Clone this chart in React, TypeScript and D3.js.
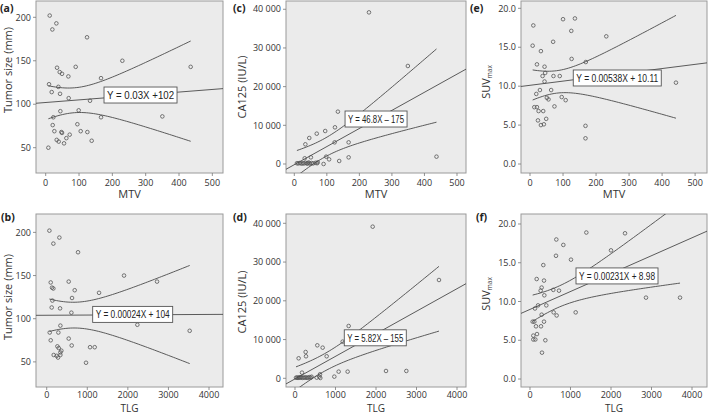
import React from 'react';
import * as d3 from 'd3';

const W = 709, H = 414;

// (a) MTV vs tumor size
const mtvA = [12,32,20,124,230,435,90,34,68,42,49,166,10,38,18,43,69,133,99,44,23,166,350,95,21,26,47,49,105,125,72,62,33,39,55,138,8];
const tumorA = [202,193,186,177,150,143,143,142,132,137,135,130,123,120,114,112,107,104,93,92,85,85,86,77,76,69,68,67,69,68,65,61,59,57,55,58,50];
// (b) TLG vs tumor size
const tlgB = [66,312,164,772,1906,2719,542,99,131,164,690,1290,624,140,123,329,608,2234,337,74,287,3524,542,99,616,263,296,1068,1183,361,337,172,246,337,279,969];
const tumorB = [202,194,187,177,150,143,143,142,136,135,133,130,124,121,113,112,107,93,92,84,84,86,77,75,69,68,66,67,67,63,61,58,57,58,55,49];
// (c) MTV vs CA125
const mtvC = [229.5,349,134,125,95,69,46,34,124,167,32,51,98,107,167,138,437,72,90,8,12,17,22,26,30,35,39,42,44,48,53,58,65,70];
const caC = [39200,25340,13530,9480,8530,7840,6720,5090,5600,5600,1470,1720,1900,1200,1720,780,1900,430,0,200,150,250,100,200,150,300,100,200,400,100,250,150,300,200];
// (d) TLG vs CA125
const tlgD = [1918,3555,1325,1177,551,683,263,90,272,782,173,1078,1300,2247,2749,971,617,601,535,625,25,50,75,100,125,150,180,210,240,270,300,330,360,390,410];
const caD = [39130,25370,13500,9460,8510,7910,6790,5160,5680,5680,1460,1720,1720,1890,1890,430,1030,430,170,80,150,200,100,250,150,300,100,200,150,250,100,200,300,150,400];
// (e) MTV vs SUVmax
const mtvE = [10,8,33,100,136,125,231,70,21,44,126,169,46,38,71,90,44,442,30,64,19,96,108,51,56,13,21,74,26,40,24,49,33,42,168,168];
const suvE = [17.8,15.2,14.5,18.6,18.7,17.1,16.4,15.7,12.8,12.5,13.5,13.1,11.7,11.3,11.3,11.3,10.6,10.45,9.5,9.5,9.0,8.6,8.2,8.5,8.3,7.3,7.3,7.4,6.8,6.8,5.6,5.8,5.0,5.1,4.9,3.3];
// (f) TLG vs SUVmax
const tlgF = [1391,2346,650,823,2000,642,1012,329,165,346,288,263,576,716,354,2864,3704,198,403,123,584,1128,288,658,66,107,346,148,272,82,173,82,132,379,296];
const suvF = [18.9,18.8,18.0,17.3,16.6,15.9,15.4,14.7,12.9,12.7,11.8,11.4,11.5,11.4,10.8,10.5,10.5,9.5,9.5,9.1,8.6,8.6,8.3,8.2,7.4,7.4,7.4,6.8,6.8,5.6,5.8,5.1,5.1,5.0,3.4];

const slopes = [0.03, 0.00024, 46.8, 5.82, 0.00538, 0.00231];
const intercepts = [102, 104, -175, -155, 10.11, 8.98];
const eqLabels = ['Y = 0.03X +102', 'Y = 0.00024X + 104', 'Y = 46.8X \u2013 175', 'Y = 5.82X \u2013 155', 'Y = 0.00538X + 10.11', 'Y = 0.00231X + 8.98'];
const panelTags = ['(a)', '(b)', '(c)', '(d)', '(e)', '(f)'];
const xTitles = ['MTV', 'TLG', 'MTV', 'TLG', 'MTV', 'TLG'];
const yTitles = ['Tumor size (mm)', 'Tumor size (mm)', 'CA125 (IU/L)', 'CA125 (IU/L)', 'SUV', 'SUV'];
const xTicksMTV = [0, 100, 200, 300, 400, 500];
const xTicksTLG = [0, 1000, 2000, 3000, 4000];
const yTicksTumor = [50, 100, 150, 200];
const yTicksCA = [0, 10000, 20000, 30000, 40000];
const yTicksSUV = [0, 5, 10, 15, 20];
// equation box anchor (left edge x, center y) in data units
const boxAnchors = [[175, 110.6], [1133, 105], [156, 11630], [1217, 10450], [131, 11.05], [1136, 13.3]];

const xsAll = [mtvA, tlgB, mtvC, tlgD, mtvE, tlgF];
const ysAll = [tumorA, tumorB, caC, caD, suvE, suvF];
const xTicksAll = [xTicksMTV, xTicksTLG, xTicksMTV, xTicksTLG, xTicksMTV, xTicksTLG];
const yTicksAll = [yTicksTumor, yTicksTumor, yTicksCA, yTicksCA, yTicksSUV, yTicksSUV];

// layout (styles)
const frames = [
  { x0: 36, x1: 223, y0: 1, y1: 173 },
  { x0: 36, x1: 223, y0: 214, y1: 387 },
  { x0: 286, x1: 466, y0: 1, y1: 173 },
  { x0: 286, x1: 466, y0: 214, y1: 387 },
  { x0: 521, x1: 707, y0: 1, y1: 173 },
  { x0: 521, x1: 707, y0: 214, y1: 387 },
];
const xDomains = [[-29.1, 532], [-264, 4345], [-25.5, 527.7], [-222, 4222], [-27.3, 536], [-222, 4370]];
const yDomains = [[20.9, 218.75], [20.9, 221.3], [-2327, 42140], [-2245, 42400], [-1.156, 20.94], [-1.03, 21.29]];
const tagPos = [[0, 12], [1, 221], [233, 12], [233, 221], [470, 12], [476, 221]];
const yTitlePos = [[12, 70], [12, 297], [246, 87], [246, 302], [490, 82], [490, 294]];
const xTitleDy = [25, 25, 25, 25, 25, 25];
const xTitleSize = [11, 10, 11, 10, 11, 10];
const xTickDy = [12.5, 11, 12.5, 11, 12.5, 11];
const boxW = [73, 80, 62, 62, 88, 82];

const caFormat = d3.formatLocale({ decimal: '.', thousands: ' ', grouping: [3], currency: ['', ''] }).format(',');
const tickFormats = [
  (v: number) => String(v),
  (v: number) => String(v),
  (v: number) => caFormat(v),
  (v: number) => caFormat(v),
  (v: number) => d3.format('.1f')(v),
  (v: number) => d3.format('.1f')(v),
];

const FONT = "'Open Sans', 'Liberation Sans', sans-serif";
const LINE = '#4a4a4a';

function Panel({ i }: { i: number }) {
  const f = frames[i];
  const xs = xsAll[i];
  const ys = ysAll[i];
  const x = d3.scaleLinear().domain(xDomains[i]).range([f.x0, f.x1]);
  const y = d3.scaleLinear().domain(yDomains[i]).range([f.y1, f.y0]);
  const b = slopes[i], a = intercepts[i];
  const n = xs.length;
  const mx = d3.mean(xs) as number;
  const sxx = d3.sum(xs, (v) => (v - mx) ** 2);
  const sse = d3.sum(xs.map((v, k) => (ys[k] - (a + b * v)) ** 2));
  const s = Math.sqrt(sse / (n - 2));
  const t = 2.03;
  const [lo, hi] = d3.extent(xs) as [number, number];
  const grid = d3.range(61).map((k) => lo + ((hi - lo) * k) / 60);
  const hw = (v: number) => t * s * Math.sqrt(1 / n + (v - mx) ** 2 / sxx);
  const upper = d3.line<number>().x((v) => x(v)).y((v) => y(a + b * v + hw(v))).curve(d3.curveMonotoneX)(grid) as string;
  const lower = d3.line<number>().x((v) => x(v)).y((v) => y(a + b * v - hw(v))).curve(d3.curveMonotoneX)(grid) as string;
  const [dx0, dx1] = xDomains[i];
  const fit = d3.line<number>().x((v) => x(v)).y((v) => y(a + b * v))([dx0, dx1]) as string;
  const clipId = `clip${i}`;
  const [bx, by] = boxAnchors[i];
  const bw = boxW[i];
  const bh = 16;
  const bxp = x(bx), byp = y(by);
  const fmt = tickFormats[i];
  return (
    <g>
      <defs>
        <clipPath id={clipId}>
          <rect x={f.x0} y={f.y0} width={f.x1 - f.x0} height={f.y1 - f.y0} />
        </clipPath>
      </defs>
      <rect x={f.x0} y={f.y0} width={f.x1 - f.x0} height={f.y1 - f.y0} fill="#ebebeb" stroke="#9a9a9a" strokeWidth={1} />
      <g clipPath={`url(#${clipId})`}>
        {xs.map((v, k) => (
          <circle key={k} cx={x(v)} cy={y(ys[k])} r={1.8} fill="none" stroke="#555" strokeWidth={0.8} />
        ))}
        <path d={fit} fill="none" stroke={LINE} strokeWidth={0.9} />
        <path d={upper} fill="none" stroke={LINE} strokeWidth={0.9} />
        <path d={lower} fill="none" stroke={LINE} strokeWidth={0.9} />
      </g>
      <rect x={bxp} y={byp - bh / 2} width={bw} height={bh} fill="#fff" stroke="#555" strokeWidth={0.9} />
      <text x={bxp + 3} y={byp + 4} fontSize={11} fontFamily="'Liberation Sans', Arial, sans-serif" fill="#222" textLength={bw - 6} lengthAdjust="spacingAndGlyphs">
        {eqLabels[i]}
      </text>
      {xTicksAll[i].map((v) => (
        <g key={'x' + v}>
          <line x1={x(v)} x2={x(v)} y1={f.y1} y2={f.y1 + 3} stroke="#777" strokeWidth={0.8} />
          <text x={x(v)} y={f.y1 + xTickDy[i]} fontSize={9} fontFamily={FONT} fill="#333" textAnchor="middle">{String(v)}</text>
        </g>
      ))}
      {yTicksAll[i].map((v) => (
        <g key={'y' + v}>
          <line x1={f.x0 - 3} x2={f.x0} y1={y(v)} y2={y(v)} stroke="#777" strokeWidth={0.8} />
          <text x={f.x0 - 5} y={y(v) + 3.2} fontSize={9} fontFamily={FONT} fill="#333" textAnchor="end">{fmt(v)}</text>
        </g>
      ))}
      <text x={(f.x0 + f.x1) / 2} y={f.y1 + xTitleDy[i]} fontSize={xTitleSize[i]} fontFamily={FONT} fill="#333" textAnchor="middle">{xTitles[i]}</text>
      <text transform={`translate(${yTitlePos[i][0]},${yTitlePos[i][1]}) rotate(-90)`} fontSize={11} fontFamily={FONT} fill="#333" textAnchor="middle">
        {yTitles[i]}
        {yTitles[i] === 'SUV' ? <tspan fontSize={6.5} dy={2}>max</tspan> : null}
      </text>
      <text x={tagPos[i][0]} y={tagPos[i][1]} fontSize={10.5} fontWeight="bold" fontFamily={FONT} fill="#222">{panelTags[i]}</text>
    </g>
  );
}

export default function App() {
  return (
    <div style={{ position: 'absolute', left: 0, top: 0, width: W, height: H, background: '#fff' }}>
      <svg width={W} height={H} viewBox={`0 0 ${W} ${H}`} style={{ display: 'block' }}>
        <rect width={W} height={H} fill="#fff" />
        {[0, 1, 2, 3, 4, 5].map((i) => (
          <Panel key={i} i={i} />
        ))}
      </svg>
    </div>
  );
}
